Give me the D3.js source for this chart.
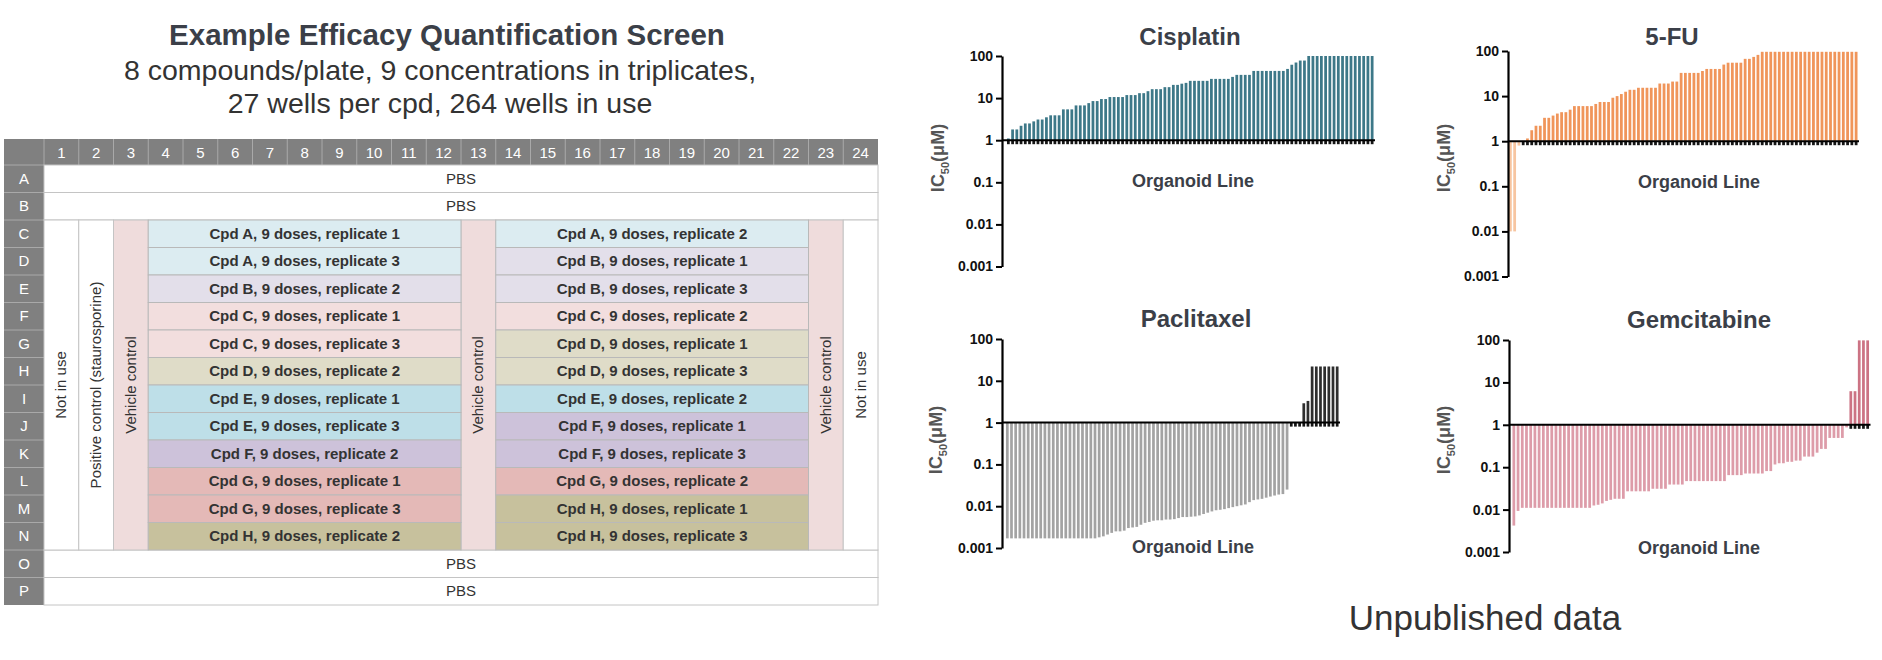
<!DOCTYPE html>
<html><head><meta charset="utf-8">
<script src="https://cdn.jsdelivr.net/npm/d3@7"></script>
<style>body{margin:0;background:#fff}svg{display:block}text{font-family:"Liberation Sans",Arial,sans-serif}</style>
</head><body>
<script>
// ---------- DATA ----------
const plateRows = ["A","B","C","D","E","F","G","H","I","J","K","L","M","N","O","P"];
const plateCols = ["1","2","3","4","5","6","7","8","9","10","11","12","13","14","15","16","17","18","19","20","21","22","23","24"];
const pbsRows = ["A","B","O","P"];
const bandRows = ["C","D","E","F","G","H","I","J","K","L","M","N"];
const leftCpd = ["A","A","B","C","C","D","E","E","F","G","G","H"];
const leftRep = [1,3,2,1,3,2,1,3,2,1,3,2];
const rightCpd = ["A","B","B","C","D","D","E","F","F","G","H","H"];
const rightRep = [2,1,3,2,1,3,2,1,3,2,1,3];

const yTickValues = [0.001,0.01,0.1,1,10,100];
const yTickLabels = ["0.001","0.01","0.1","1","10","100"];

const cisplatinIC50 = [1.1,1.8,1.8,2.2,2.5,2.5,2.8,3.1,3.1,3.5,3.9,3.9,3.9,5.4,5.4,5.4,6.7,6.7,6.7,7.6,
  8.5,8.5,9.5,9.5,10.6,10.6,10.6,10.6,11.8,11.8,11.8,13.1,13.1,14.6,16.3,16.3,16.3,18.2,18.2,20.6,
  20.6,22,23,25.7,25.7,25.7,25.7,25.7,28.6,28.6,28.6,28.6,28.6,31.9,35.6,35.6,35.6,35.6,44.2,44.2,
  44.2,44.2,44.2,44.2,44.2,44.2,49.3,62,70,78,78,100,100,100,100,100,100,100,100,100,
  100,100,100,100,100,100,100];
const fluorouracilIC50 = [0.01,0.01,0.8,1.02,1.15,1.75,2.2,2.2,3.3,3.3,3.7,4.1,4.4,4.4,5.0,6.0,6.0,6.0,6.0,6.0,
  6.7,7.4,7.4,7.4,9.2,10,11.1,12.5,13.8,13.8,15.3,15.3,15.3,15.3,15.3,19,19,19,21,21,
  32.7,32.7,32.7,32.7,32.7,36,40,40,40,40,50,55,55,55,55,67,67,74,82,96,
  96,96,96,96,96,96,96,96,96,96,96,96,96,96,96,96,96,96,96,96,
  96,96];
const paclitaxelIC50 = [0.0017,0.0017,0.0017,0.0017,0.0017,0.0017,0.0017,0.0017,0.0017,0.0017,
  0.0017,0.0017,0.0017,0.0017,0.0017,0.0017,0.0017,0.0017,0.0017,0.0017,0.0017,0.0017,
  0.0018,0.0019,0.0021,0.0023,0.0025,0.0025,0.0026,0.003,0.0031,0.0032,0.0036,0.004,0.0042,0.0045,
  0.0046,0.0046,0.0048,0.0048,0.0049,0.0052,0.0055,0.0055,0.0056,0.0057,0.006,0.0065,0.007,0.0075,
  0.008,0.0082,0.0085,0.009,0.0095,0.01,0.0105,0.011,0.0125,0.014,0.0145,0.015,0.016,0.017,0.018,
  0.019,0.0195,0.025,1.02,1.02,1.02,2.9,3.3,22,22,22,22,22,22,22];
const gemcitabineIC50 = [0.0042,0.0093,0.011,0.011,0.011,0.011,0.011,0.011,0.011,0.011,0.011,0.011,0.011,
  0.011,0.011,0.011,0.011,0.011,0.011,0.0125,0.013,0.014,0.016,0.017,0.018,0.018,0.018,
  0.027,0.027,0.027,0.027,0.027,0.027,0.031,0.031,0.031,0.031,0.039,0.039,0.039,0.039,
  0.047,0.047,0.047,0.047,0.047,0.047,0.047,0.047,0.047,0.047,0.065,0.065,0.065,0.065,
  0.071,0.071,0.071,0.071,0.071,0.081,0.081,0.116,0.124,0.124,0.134,0.134,0.143,0.143,
  0.178,0.178,0.178,0.22,0.27,0.27,0.49,0.49,0.49,0.49,0.87,6.2,6.2,98,98,98];

// ---------- STYLE ----------
const cpdColors = {A:"#dcecf1",B:"#e3dfea",C:"#f2dede",D:"#dfdcc8",E:"#bedfe8",F:"#cdc2da",G:"#e4b9b7",H:"#c7c19d"};
const dark = "#3b3f48";

const svg = d3.select("body").append("svg").attr("width",1882).attr("height",660);
svg.append("rect").attr("width",1882).attr("height",660).attr("fill","#fff");

// ---------- PLATE ----------
const P = svg.append("g");
P.append("text").attr("x",447).attr("y",45).attr("text-anchor","middle").attr("font-size",29.5).attr("font-weight","bold").attr("fill",dark).text("Example Efficacy Quantification Screen");
P.append("text").attr("x",440).attr("y",80).attr("text-anchor","middle").attr("font-size",28.5).attr("fill","#333").text("8 compounds/plate, 9 concentrations in triplicates,");
P.append("text").attr("x",440).attr("y",113).attr("text-anchor","middle").attr("font-size",28.5).attr("fill","#333").text("27 wells per cpd, 264 wells in use");

const xc = d3.scaleBand().domain(plateCols).range([44,878]);
const yr = d3.scaleBand().domain(plateRows).range([165,605]);
const gridL = 4, headT = 139;
const cw = xc.bandwidth(), rh = yr.bandwidth();

// header
P.append("rect").attr("x",gridL).attr("y",headT).attr("width",878-gridL).attr("height",165-headT).attr("fill","#808080");
P.append("rect").attr("x",gridL).attr("y",165).attr("width",44-gridL).attr("height",440).attr("fill","#808080");
P.selectAll("line.hc").data(plateCols).join("line").attr("x1",d=>xc(d)).attr("x2",d=>xc(d)).attr("y1",headT).attr("y2",165).attr("stroke","#a9a9a9").attr("stroke-width",1);
P.selectAll("line.hr").data(plateRows).join("line").attr("x1",gridL).attr("x2",44).attr("y1",d=>yr(d)).attr("y2",d=>yr(d)).attr("stroke","#a9a9a9").attr("stroke-width",1);
P.selectAll("text.ch").data(plateCols).join("text").attr("x",d=>xc(d)+cw/2).attr("y",158).attr("text-anchor","middle").attr("font-size",15).attr("fill","#fff").text(d=>d);
P.selectAll("text.rl").data(plateRows).join("text").attr("x",24).attr("y",d=>yr(d)+rh/2+5).attr("text-anchor","middle").attr("font-size",15).attr("fill","#fff").text(d=>d);

// PBS rows
pbsRows.forEach(r=>{
  P.append("rect").attr("x",44).attr("y",yr(r)).attr("width",878-44).attr("height",rh).attr("fill","#fff").attr("stroke","#c4c4c4");
  P.append("text").attr("x",461).attr("y",yr(r)+rh/2+5).attr("text-anchor","middle").attr("font-size",15).attr("fill","#333").text("PBS");
});
const bodyT = yr("C"), bodyB = yr("N")+rh, bodyMid = (bodyT+bodyB)/2;
function vcol(col, fill, label){
  P.append("rect").attr("x",xc(col)).attr("y",bodyT).attr("width",cw).attr("height",bodyB-bodyT).attr("fill",fill).attr("stroke","#c4c4c4");
  P.append("text").attr("transform",`translate(${xc(col)+cw/2+5},${bodyMid}) rotate(-90)`).attr("text-anchor","middle").attr("font-size",15).attr("fill","#333").text(label);
}
vcol("1","#fff","Not in use");
vcol("2","#fff","Positive control (staurosporine)");
vcol("3","#efdcdc","Vehicle control");
vcol("13","#efdcdc","Vehicle control");
vcol("23","#efdcdc","Vehicle control");
vcol("24","#fff","Not in use");
function band(c0,c1,cpds,reps){
  const x0 = xc(c0), x1 = xc(c1)+cw;
  bandRows.forEach((r,i)=>{
    P.append("rect").attr("x",x0).attr("y",yr(r)).attr("width",x1-x0).attr("height",rh).attr("fill",cpdColors[cpds[i]]).attr("stroke","#b9b9b9");
    P.append("text").attr("x",(x0+x1)/2).attr("y",yr(r)+rh/2+5).attr("text-anchor","middle").attr("font-size",15).attr("font-weight","bold").attr("fill","#333")
      .text(`Cpd ${cpds[i]}, 9 doses, replicate ${reps[i]}`);
  });
}
band("4","12",leftCpd,leftRep);
band("14","22",rightCpd,rightRep);

// ---------- BAR CHARTS ----------
const charts = [
  {title:"Cisplatin", values:cisplatinIC50, axisX:1002, top:56, bottom:266.5, x0:1005.5, x1:1375, pos:"#3d7888", neg:"#3d7888",
   tx:1190, ty:45, lx:944, ly:158, ox:1193, oy:187},
  {title:"5-FU", values:fluorouracilIC50, axisX:1508, top:51, bottom:276.5, x0:1507.5, x1:1859, pos:"#f0955a", neg:"#f7c5a0",
   tx:1672, ty:45, lx:1450, ly:158, ox:1699, oy:188},
  {title:"Paclitaxel", values:paclitaxelIC50, axisX:1002, top:339, bottom:548, x0:1004.5, x1:1340, pos:"#2e2e2e", neg:"#a3a3a3",
   tx:1196, ty:327, lx:942, ly:440, ox:1193, oy:553},
  {title:"Gemcitabine", values:gemcitabineIC50, axisX:1509, top:340, bottom:552, x0:1511, x1:1870.5, pos:"#cc7384", neg:"#dd9ca9",
   tx:1699, ty:328, lx:1450, ly:440, ox:1699, oy:554}
];

charts.forEach(c=>{
  const g = svg.append("g");
  const y = d3.scaleLog().domain([0.001,100]).range([c.bottom,c.top]);
  const x = d3.scaleBand().domain(d3.range(c.values.length)).range([c.x0,c.x1]).paddingInner(0.35).paddingOuter(0.35);
  const y1 = y(1);
  g.selectAll("rect.bar").data(c.values).join("rect")
    .attr("x",(d,i)=>x(i)).attr("width",x.bandwidth())
    .attr("y",d=>d>=1?y(d):y1).attr("height",d=>Math.abs(y(d)-y1))
    .attr("fill",d=>d>=1?c.pos:c.neg);
  g.selectAll("rect.foot").data(c.values.map((v,i)=>({v,i})).filter(o=>o.v>=1)).join("rect")
    .attr("x",o=>x(o.i)).attr("width",x.bandwidth()).attr("y",y1).attr("height",4).attr("fill","#151515");
  g.append("line").attr("x1",c.axisX).attr("x2",c.x1).attr("y1",y1).attr("y2",y1).attr("stroke","#000").attr("stroke-width",2);
  const ax = g.append("g").attr("transform",`translate(${c.axisX},0)`)
    .call(d3.axisLeft(y).tickValues(yTickValues).tickFormat((d,i)=>yTickLabels[i]).tickSize(6).tickSizeOuter(0).tickPadding(3));
  ax.select(".domain").attr("stroke","#000").attr("stroke-width",2.2);
  ax.selectAll(".tick line").attr("stroke","#000").attr("stroke-width",2);
  ax.selectAll(".tick text").attr("font-size",14).attr("font-weight","bold").attr("fill","#111").attr("font-family","Liberation Sans, Arial, sans-serif");
  g.append("text").attr("x",c.tx).attr("y",c.ty).attr("text-anchor","middle").attr("font-size",24).attr("font-weight","bold").attr("fill",dark).text(c.title);
  g.append("text").attr("x",c.ox).attr("y",c.oy).attr("text-anchor","middle").attr("font-size",18).attr("font-weight","bold").attr("fill",dark).text("Organoid Line");
  const lab = g.append("text").attr("transform",`translate(${c.lx},${c.ly}) rotate(-90)`).attr("text-anchor","middle").attr("font-size",18).attr("font-weight","bold").attr("fill","#555");
  lab.append("tspan").text("IC");
  lab.append("tspan").attr("font-size",11).attr("dy",5).text("50");
  lab.append("tspan").attr("dy",-5).text("(μM)");
});

svg.append("text").attr("x",1485).attr("y",630).attr("text-anchor","middle").attr("font-size",35).attr("fill","#333").text("Unpublished data");
</script>
</body></html>
